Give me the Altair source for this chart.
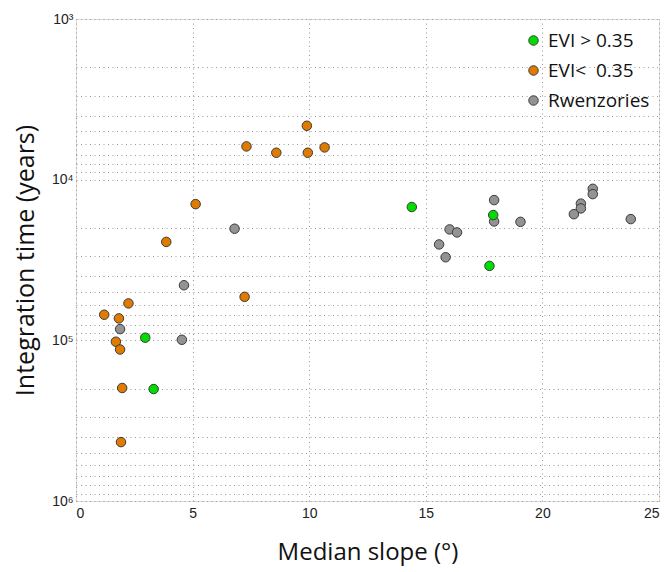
import altair as alt
import pandas as pd

# ---- data ----
series_names = ["EVI > 0.35", "EVI<  0.35", "Rwenzories"]
series_colors = ["#00dd00", "#e07b00", "#939393"]

green_slope = [14.40, 17.89, 17.73, 2.97, 3.33]
green_time = [14800, 16600, 34400, 96300, 201000]

orange_slope = [9.90, 7.31, 8.59, 9.94, 10.66, 5.13, 3.87, 7.23, 2.25, 1.21,
                1.84, 1.71, 1.89, 1.98, 1.93]
orange_time = [4620, 6210, 6800, 6800, 6300, 14200, 24400, 53600, 58900, 69300,
               73000, 102000, 114000, 198000, 430000]

gray_slope = [17.93, 17.93, 19.06, 16.02, 16.34, 15.57, 15.85, 21.65, 21.65,
              21.35, 22.16, 22.16, 23.79, 6.80, 4.63, 1.89, 4.54]
gray_time = [13400, 18200, 18300, 20400, 21300, 25300, 30400, 14100, 15100,
             16400, 11400, 12300, 17600, 20200, 45400, 85100, 99200]

x_ticks = [0, 5, 10, 15, 20, 25]
y_ticks = [m * 10 ** e for e in range(3, 6) for m in range(1, 10)] + [10 ** 6]

rows = []
for name, xs, ys in [(series_names[2], gray_slope, gray_time),
                     (series_names[1], orange_slope, orange_time),
                     (series_names[0], green_slope, green_time)]:
    for a, b in zip(xs, ys):
        rows.append({"series": name, "slope": a, "time": b})
df = pd.DataFrame(rows)
df["order"] = range(len(df))

label_expr = ("datum.value == 1000 ? '10\u00b3' : datum.value == 10000 ? '10\u2074' : "
              "datum.value == 100000 ? '10\u2075' : datum.value == 1000000 ? '10\u2076' : ''")
legend_expr = "replace(datum.label, '  ', '\u00a0 ')"

chart = alt.Chart(df).mark_point(
    filled=True, shape="circle", size=90, stroke="#3a3a3a", strokeWidth=1, opacity=1
).encode(
    x=alt.X("slope:Q",
            scale=alt.Scale(domain=[0, 25], nice=False, zero=False),
            axis=alt.Axis(values=x_ticks, title="Median slope (°)", grid=True,
                          gridDash=[1, 3.5], gridColor="#999999", gridWidth=1,
                          ticks=False, domain=False, labelPadding=5,
                          labelFont="Liberation Sans", labelFontSize=14, labelColor="#222222",
                          titleFont="Open Sans", titleFontSize=24, titleFontWeight="normal",
                          titleColor="#111111", titlePadding=20)),
    y=alt.Y("time:Q",
            scale=alt.Scale(type="log", domain=[1000, 1000000], nice=False, reverse=True),
            axis=alt.Axis(values=y_ticks, labelExpr=label_expr, labelOverlap=False,
                          title="Integration time (years)", grid=True,
                          gridDash=[1, 3.5], gridColor="#999999", gridWidth=1,
                          ticks=False, domain=False, labelPadding=3,
                          labelFont="Liberation Sans", labelFontSize=14, labelColor="#222222",
                          titleFont="Open Sans", titleFontSize=25, titleFontWeight="normal",
                          titleColor="#111111", titlePadding=13)),
    color=alt.Color("series:N",
                    scale=alt.Scale(domain=series_names, range=series_colors),
                    legend=alt.Legend(title=None, orient="none", legendX=448, legendY=12,
                                      symbolType="circle", symbolSize=90,
                                      symbolStrokeColor="#3a3a3a", symbolStrokeWidth=1,
                                      labelFont="Open Sans", labelFontSize=19,
                                      labelExpr=legend_expr,
                                      labelColor="#111111", labelOffset=5, rowPadding=10,
                                      padding=0)),
    order=alt.Order("order:Q"),
).properties(
    width=583, height=482,
    autosize=alt.AutoSizeParams(type="none"),
    padding={"left": 76, "top": 19, "right": 6, "bottom": 71},
).configure_view(
    stroke="#333333", strokeWidth=1
).configure(
    background="white"
)

chart.save("out.html", embed_options={"renderer": "svg", "actions": False})
